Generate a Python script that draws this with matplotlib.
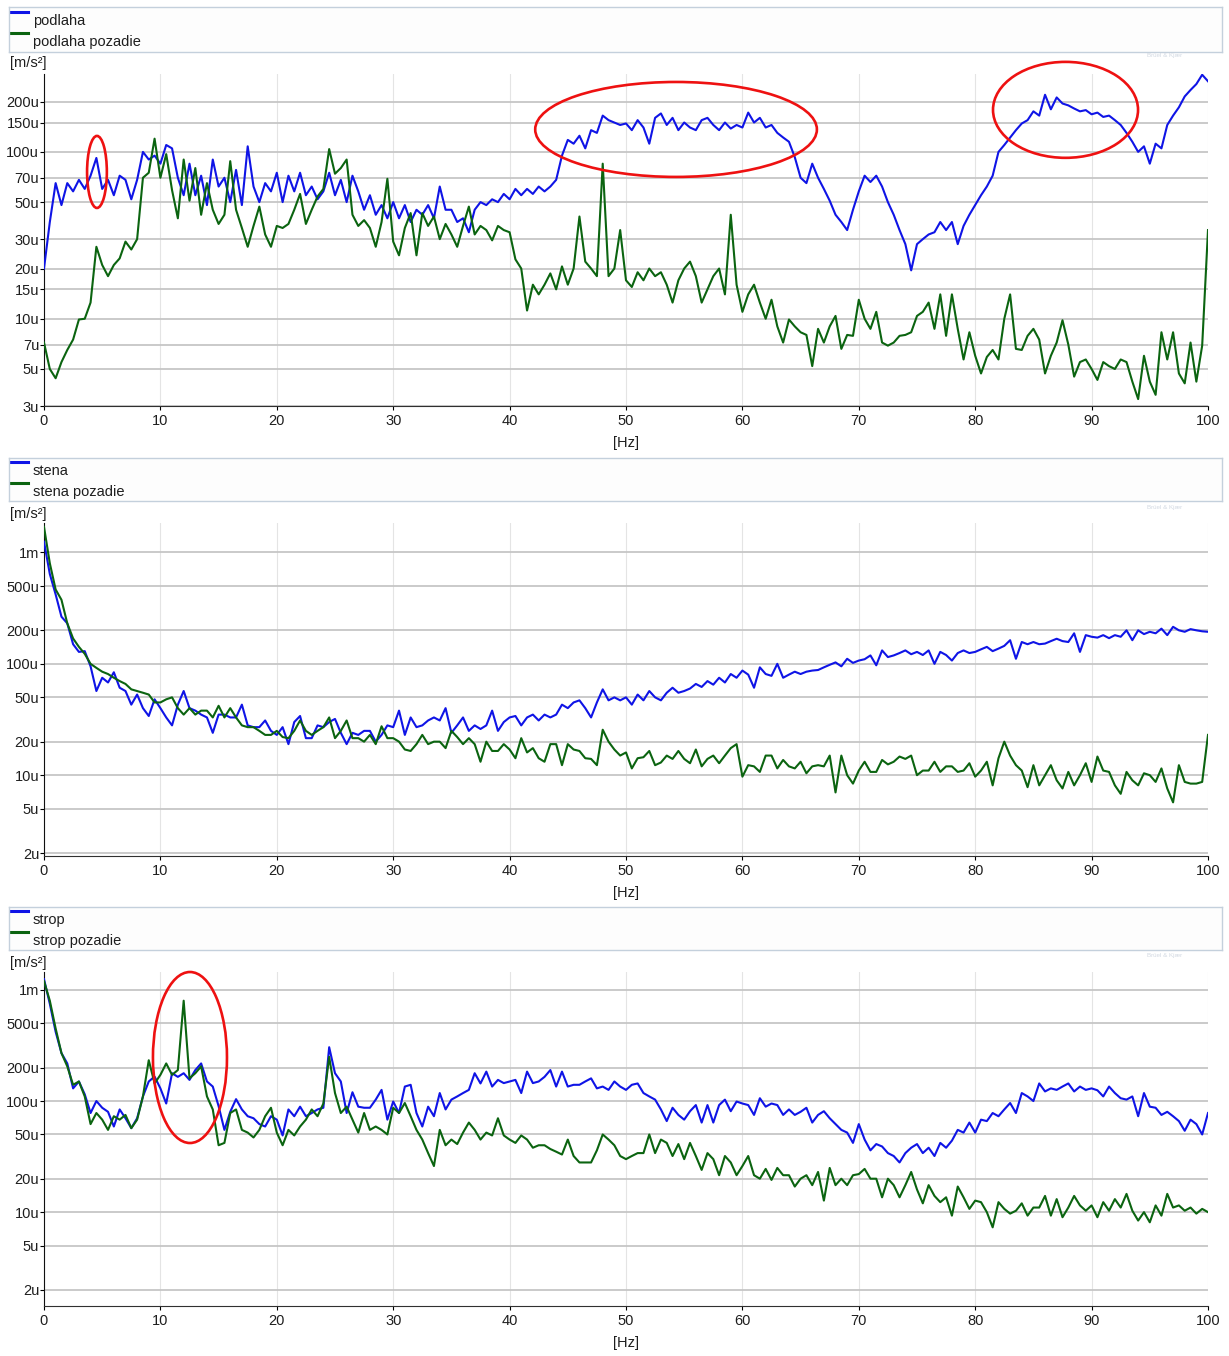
import numpy as np
import matplotlib.pyplot as plt
from matplotlib.patches import Ellipse
from matplotlib.ticker import FixedLocator, NullLocator

plt.rcParams['font.family'] = ['Liberation Sans', 'DejaVu Sans']

# spectra in u(m/s2), one value every 0.5 Hz from 0 to 100 Hz
FREQ_STEP = 0.5

podlaha = [
    20, 38, 65, 48, 65, 58, 68, 60, 72, 92,
    60, 68, 55, 72, 68, 52, 68, 100, 90, 95,
    85, 110, 105, 70, 55, 85, 55, 72, 48, 90,
    62, 70, 50, 78, 48, 108, 62, 50, 65, 58,
    75, 50, 72, 58, 75, 55, 62, 52, 58, 75,
    55, 68, 50, 72, 58, 45, 55, 42, 48, 40,
    50, 40, 48, 38, 45, 42, 48, 40, 62, 45,
    45, 38, 40, 33, 45, 50, 48, 52, 50, 56,
    52, 60, 55, 60, 56, 62, 58, 62, 68, 95,
    118, 112, 125, 105, 135, 130, 165, 155, 150, 145,
    148, 135, 155, 140, 112, 160, 170, 145, 160, 135,
    150, 140, 135, 155, 160, 145, 135, 150, 138, 145,
    140, 172, 150, 160, 140, 145, 130, 122, 115, 93,
    70, 65, 85, 70, 60, 51, 42, 38, 34, 45,
    58, 72, 66, 72, 62, 50, 42, 34, 28, 19.5,
    28, 30, 32, 33, 38, 34, 38, 28, 36, 42,
    48, 55, 62, 72, 100, 110, 122, 135, 148, 155,
    175, 165, 220, 180, 212, 195, 190, 182, 175, 178,
    168, 172, 162, 165, 155, 145, 130, 115, 100, 108,
    85, 112, 105, 145, 165, 185, 215, 235, 255, 290,
    265]
podlaha_pozadie = [
    7.2, 5.0, 4.4, 5.5, 6.5, 7.5, 9.9, 10, 12.5, 27,
    21, 18, 21, 23, 29, 26, 30, 70, 75, 120,
    70, 97, 59, 40, 90, 51, 80, 42, 65, 45,
    37, 42, 88, 45, 35, 27, 36, 47, 32, 27,
    36, 35, 37, 45, 56, 37, 45, 54, 60, 104,
    74, 80, 90, 42, 36, 39, 35, 27, 38, 69,
    29, 24, 35, 43, 24, 43, 36, 41, 30, 37,
    32, 27, 36, 47, 32, 36, 34, 29.5, 36, 34,
    33, 22.7, 20, 11.2, 16, 14, 16, 18.7, 15, 20.6,
    16, 20, 41, 22, 20, 18, 85, 18, 20, 34,
    17, 15.5, 19, 17, 20, 18, 19, 16, 12.5, 17,
    20, 22, 18, 12.5, 15, 18, 20, 14, 42, 16,
    11, 14, 16, 12.5, 10, 13, 9, 7.2, 9.9, 9,
    8.3, 8, 5.2, 8.7, 7.2, 9, 10.4, 6.6, 8, 7.9,
    13, 10, 8.7, 11, 7.2, 6.9, 7.2, 7.9, 8, 8.3,
    10.4, 11, 12.5, 8.7, 14, 7.9, 14, 8.7, 5.7, 8.3,
    6, 4.7, 5.9, 6.5, 5.7, 10, 14, 6.6, 6.5, 7.9,
    8.7, 7.5, 4.7, 6, 7.2, 9.8, 7, 4.5, 5.5, 5.7,
    5, 4.3, 5.5, 5.2, 5, 5.7, 5.5, 4.2, 3.3, 6,
    4.2, 3.5, 8.3, 5.7, 8.3, 4.7, 4.1, 7.2, 4.2, 6.9,
    34]

stena = [
    1250, 640, 420, 265, 231, 150, 128, 130, 95, 57,
    75, 68, 84, 61, 57, 43, 53, 40, 34, 48,
    40, 33, 28, 43, 57, 40, 38, 35, 33, 24,
    35, 35, 33, 33, 43, 28, 27, 27, 31, 25,
    23, 27, 19, 30, 34, 21.5, 21.5, 28, 27, 30,
    32, 24, 19, 24, 23, 25, 25, 20, 23, 28,
    27, 38, 23, 33, 27, 28, 31, 33, 31, 40,
    24, 28, 33, 25, 28, 26, 28, 38, 25, 30,
    33, 34, 28, 33, 35, 31, 35, 33, 35, 43,
    40, 45, 47, 40, 33, 45, 59, 47, 50, 47,
    50, 43, 53, 47, 57, 50, 47, 55, 61, 55,
    57, 60, 66, 62, 70, 65, 75, 68, 81, 75,
    87, 80, 61, 93, 81, 78, 100, 75, 80, 85,
    81, 85, 87, 88, 93, 98, 103, 95, 111, 102,
    107, 110, 119, 97, 132, 115, 119, 125, 132, 122,
    128, 120, 132, 100, 128, 120, 107, 125, 132, 125,
    128, 135, 142, 130, 137, 145, 163, 111, 157, 150,
    157, 150, 152, 160, 168, 160, 157, 188, 128, 181,
    175, 172, 181, 170, 181, 175, 200, 163, 200, 185,
    194, 188, 207, 181, 215, 200, 194, 205, 200, 196,
    194]
stena_pozadie = [
    1700, 800, 465, 376, 231, 169, 142, 123, 100, 92,
    85, 81, 75, 70, 66, 59, 57, 55, 53, 45,
    45, 48, 50, 40, 35, 40, 35, 38, 38, 33,
    42, 33, 40, 33, 28, 27, 27, 25, 23, 23,
    25, 22, 21.5, 25, 31, 25, 23, 25, 27, 33,
    21.5, 25, 31, 21.5, 21.5, 20, 23, 19, 27.5, 21.5,
    21.5, 20, 17, 16.5, 19, 23, 19, 20, 20, 17.5,
    25, 22, 19, 21.5, 19, 13.2, 20, 16.5, 16.5, 19,
    17, 14.2, 21.5, 16, 17.5, 14.2, 13.2, 19, 19, 12.3,
    19, 17, 16.5, 14.2, 14, 12.3, 25.6, 20, 17, 15,
    16, 11.5, 14.2, 14.5, 16.5, 12.3, 13, 15, 14, 16.5,
    14, 12.8, 17, 12, 14, 15, 12.8, 15, 17.5, 19,
    9.7, 12.3, 12, 10.7, 15, 15, 11.5, 13.7, 12, 11.5,
    13.2, 10.4, 12, 12.3, 12, 15, 7, 15, 10, 8.4,
    11, 13.2, 10.7, 10.7, 13.7, 12.5, 13.2, 14.7, 14, 15,
    10, 11, 11, 13.2, 10.7, 12, 12, 10.7, 11, 12.8,
    9.7, 11, 13.2, 8.1, 14.2, 20, 15, 12.3, 11, 7.8,
    12.3, 8.1, 10, 12.3, 9, 7.6, 10.7, 8.1, 10, 12.8,
    8.7, 14.7, 11, 10.7, 8.1, 6.8, 10.7, 9, 8.1, 10.4,
    10, 8.7, 11.5, 7.6, 5.7, 12.3, 8.7, 8.4, 8.4, 8.7,
    23]

strop = [
    1250, 750, 420, 270, 218, 130, 150, 115, 78, 100,
    87, 80, 59, 84, 70, 57, 70, 110, 150, 166,
    130, 95, 178, 165, 178, 155, 190, 218, 150, 135,
    90, 55, 80, 104, 84, 73, 70, 62, 59, 73,
    68, 49, 84, 73, 89, 73, 78, 84, 87, 305,
    178, 150, 78, 120, 89, 87, 87, 103, 126, 68,
    99, 78, 135, 140, 78, 59, 89, 73, 118, 84,
    103, 110, 118, 126, 178, 144, 184, 135, 155, 145,
    150, 155, 118, 184, 145, 150, 165, 190, 135, 184,
    135, 140, 140, 150, 160, 130, 135, 126, 150, 135,
    126, 140, 144, 118, 110, 103, 84, 66, 87, 75,
    68, 81, 92, 64, 92, 64, 92, 103, 81, 99,
    95, 92, 75, 106, 89, 95, 92, 75, 84, 75,
    80, 87, 64, 75, 81, 70, 62, 55, 52, 42,
    62, 45, 36, 41, 39, 34, 32, 28, 34, 38,
    41, 34, 38, 32, 42, 38, 44, 55, 52, 64,
    52, 68, 66, 78, 73, 84, 96, 78, 118, 110,
    100, 144, 122, 130, 126, 135, 144, 122, 135, 126,
    130, 125, 110, 135, 118, 106, 103, 110, 73, 118,
    89, 87, 75, 80, 73, 66, 54, 68, 62, 50,
    78]
strop_pozadie = [
    1200, 800, 450, 270, 205, 140, 150, 110, 62, 78,
    68, 55, 73, 68, 75, 57, 68, 110, 233, 144,
    172, 218, 172, 190, 800, 160, 178, 205, 110, 84,
    40, 42, 78, 84, 55, 52, 47, 55, 73, 87,
    52, 40, 55, 49, 59, 68, 84, 73, 95, 250,
    118, 78, 89, 68, 52, 78, 55, 59, 55, 50,
    87, 78, 96, 73, 55, 45, 34, 26, 55, 40,
    45, 41, 52, 64, 55, 45, 52, 49, 70, 49,
    45, 42, 49, 45, 38, 40, 40, 37, 35, 33,
    45, 32, 28, 28, 28, 36, 50, 45, 40, 32,
    30, 32, 34, 34, 50, 34, 45, 42, 32, 41,
    30, 42, 32, 24, 34, 30, 21.5, 32, 28, 21.5,
    26, 32, 21.5, 20, 24.5, 19.5, 25, 21.5, 21.5, 17,
    20, 21.5, 17.5, 23, 12.7, 25, 17.5, 20, 17.5, 21.5,
    22, 24.5, 20, 20, 13.6, 20, 17.5, 13.6, 17.5, 23,
    16, 12, 17.5, 14, 12.3, 13.6, 9.3, 17, 13.6, 10.7,
    12.7, 12.3, 10, 7.3, 12.3, 10.7, 9.7, 10.3, 12, 9.3,
    11, 11, 14, 9.3, 13.1, 9, 11, 14, 11.5, 10.3,
    11.5, 9, 12.3, 10.3, 13.1, 11, 14.6, 10.3, 8.4, 10,
    8.1, 11.5, 9.3, 14.6, 11, 11.5, 10.3, 11, 9.7, 10.7,
    10]

names = [("podlaha", "podlaha pozadie"),
         ("stena", "stena pozadie"),
         ("strop", "strop pozadie")]

ticks_top = [3, 5, 7, 10, 15, 20, 30, 50, 70, 100, 150, 200]
labels_top = ["3u", "5u", "7u", "10u", "15u", "20u", "30u", "50u", "70u",
              "100u", "150u", "200u"]
ticks_low = [2, 5, 10, 20, 50, 100, 200, 500, 1000]
labels_low = ["2u", "5u", "10u", "20u", "50u", "100u", "200u", "500u", "1m"]
xticks = [0, 10, 20, 30, 40, 50, 60, 70, 80, 90, 100]

W, H = 1229, 1356
BLUE = "#0f14e6"
GREEN = "#0b6410"
TXT = "#1e1e1e"
FS = 10.5

fig = plt.figure(figsize=(W / 100, H / 100), dpi=100)
fig.patch.set_facecolor("white")


def rect(x0, y0, x1, y1):
    return [x0 / W, 1 - y1 / H, (x1 - x0) / W, (y1 - y0) / H]


panels = [
    dict(ax=(44, 74, 1208, 406), leg=(9, 7, 1222, 52), unit=63, hz=443,
         data=(podlaha, podlaha_pozadie), ticks=(ticks_top, labels_top),
         ylim=(3, 293),
         ell=[(0.0455, 0.705, 0.017, 0.217), (0.543, 0.833, 0.242, 0.286),
              (0.8776, 0.892, 0.1246, 0.289)]),
    dict(ax=(44, 523, 1208, 856), leg=(9, 458, 1222, 501), unit=514, hz=893,
         data=(stena, stena_pozadie), ticks=(ticks_low, labels_low),
         ylim=(1.88, 1840), ell=[]),
    dict(ax=(44, 972, 1208, 1306), leg=(9, 907, 1222, 950), unit=963, hz=1343,
         data=(strop, strop_pozadie), ticks=(ticks_low, labels_low),
         ylim=(1.43, 1450), ell=[(0.1254, 0.744, 0.0636, 0.512)]),
]

for p, (n1, n2) in zip(panels, names):
    # legend strip
    lg = fig.add_axes(rect(*p["leg"]))
    lg.set_xticks([])
    lg.set_yticks([])
    lg.set_xlim(0, 1)
    lg.set_ylim(0, 1)
    lg.set_facecolor("#fdfdfd")
    for s in lg.spines.values():
        s.set_color("#c4d0dc")
        s.set_linewidth(1.0)
    lg.plot([0.0012, 0.016], [0.9, 0.9], color=BLUE, lw=2.2)
    lg.plot([0.0012, 0.016], [0.42, 0.42], color=GREEN, lw=2.2)
    lg.text(0.0197, 0.70, n1, fontsize=FS, color=TXT, va="center")
    lg.text(0.0197, 0.22, n2, fontsize=FS, color=TXT, va="center")

    ax = fig.add_axes(rect(*p["ax"]))
    blue = np.array(p["data"][0]) * 1e-6
    green = np.array(p["data"][1]) * 1e-6
    f = np.arange(len(blue)) * FREQ_STEP
    ax.plot(f, blue, color=BLUE, lw=1.5, zorder=3)
    ax.plot(f, green, color=GREEN, lw=1.5, zorder=4)
    ax.set_yscale("log")
    ax.set_xlim(0, 100)
    ax.set_ylim(p["ylim"][0] * 1e-6, p["ylim"][1] * 1e-6)
    tv, tl = p["ticks"]
    ax.yaxis.set_major_locator(FixedLocator([t * 1e-6 for t in tv]))
    ax.yaxis.set_minor_locator(NullLocator())
    ax.set_yticklabels(tl)
    ax.set_xticks(xticks)
    ax.set_xticklabels([str(x) for x in xticks])
    ax.tick_params(axis="y", length=3, width=0.8, pad=0.5, labelsize=FS,
                   labelcolor=TXT)
    ax.tick_params(axis="x", length=3, width=0.8, pad=3, labelsize=FS,
                   labelcolor=TXT)
    ax.grid(axis="y", color="#c6c6c6", lw=1.3, zorder=0)
    ax.grid(axis="x", color="#e4e4e4", lw=0.8, zorder=0)
    for side in ("top", "right"):
        ax.spines[side].set_visible(False)
    ax.spines["left"].set_color("#101010")
    ax.spines["bottom"].set_color("#303030")

    for cx, cy, w, h in p["ell"]:
        ax.add_patch(Ellipse((cx, cy), w, h, transform=ax.transAxes,
                             fill=False, edgecolor="#ee1111", lw=1.9,
                             clip_on=False, zorder=6))

    fig.text(10 / W, 1 - p["unit"] / H, "[m/s²]", fontsize=FS, color=TXT,
             va="center", ha="left")
    fig.text(626 / W, 1 - p["hz"] / H, "[Hz]", fontsize=FS, color=TXT,
             va="center", ha="center")
    fig.text(1182 / W, 1 - (p["unit"] - 7) / H, "Brüel & Kjær", fontsize=4.5,
             color="#d2d9e2", va="center", ha="right")

fig.savefig("out.png", dpi=100)
